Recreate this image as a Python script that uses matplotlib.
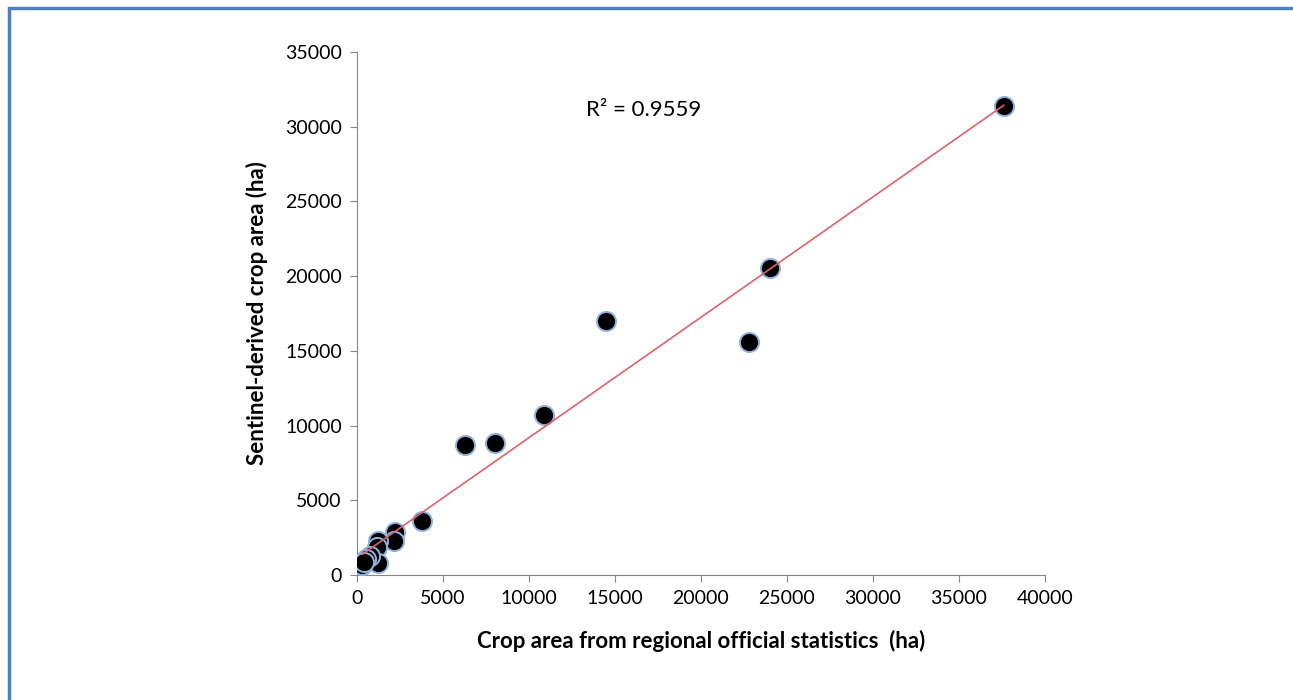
import numpy as np
import matplotlib.pyplot as plt
from matplotlib.patches import Rectangle

plt.rcParams['font.family'] = ['Lato', 'DejaVu Sans']

# Official statistics vs Sentinel-derived crop area (ha)
official_ha = [37600, 24000, 22800, 14500, 10900, 8000, 6300, 3800,
               2200, 2150, 1250, 1150, 1250, 750, 550, 300, 400]
sentinel_ha = [31400, 20550, 15600, 17000, 10700, 8800, 8700, 3600,
               2850, 2250, 2300, 1850, 800, 1300, 1100, 700, 850]

x = np.array(official_ha, dtype=float)
y = np.array(sentinel_ha, dtype=float)

# linear trendline
slope, intercept = np.polyfit(x, y, 1)
xs = np.array([x.min(), x.max()])

fig = plt.figure(figsize=(12.93, 7), dpi=100)
ax = fig.add_axes([0.2761, 0.1786, 0.5321, 0.7471])

ax.scatter(x, y, s=190, color='black', edgecolors='#8fb3de', linewidths=1.4, zorder=3)
ax.plot(xs, slope * xs + intercept, color='#e0606e', linewidth=1.2, zorder=4)

ax.set_xlim(0, 40000)
ax.set_ylim(0, 35000)
ax.set_xticks(range(0, 40001, 5000))
ax.set_yticks(range(0, 35001, 5000))
ax.tick_params(direction='out', length=5, color='#868686', labelsize=14, pad=6)

for side in ['top', 'right']:
    ax.spines[side].set_visible(False)
for side in ['left', 'bottom']:
    ax.spines[side].set_color('#868686')

ax.set_xlabel('Crop area from regional official statistics  (ha)', fontsize=16,
              fontweight='bold', labelpad=16)
ax.set_ylabel('Sentinel-derived crop area (ha)', fontsize=16, fontweight='bold',
              labelpad=12)

ax.text(0.333, 0.89, 'R² = 0.9559', transform=ax.transAxes, fontsize=16,
        ha='left', va='center')

# page frame
fig.patches.append(Rectangle((0.0072, -0.05), 1.1, 1.038, transform=fig.transFigure,
                             fill=False, edgecolor='#4f81bd', linewidth=2.5))

fig.savefig('out.png', dpi=100)
